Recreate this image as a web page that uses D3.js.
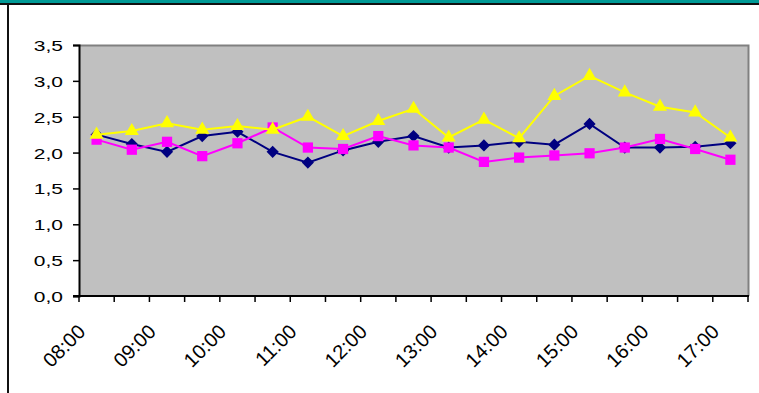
<!DOCTYPE html>
<html>
<head>
<meta charset="utf-8">
<script src="https://cdn.jsdelivr.net/npm/d3@7"></script>
<style>
  html, body { margin: 0; padding: 0; background: #fff; }
  svg { display: block; }
  text { font-family: "Liberation Sans", Arial, sans-serif; }
</style>
</head>
<body>
<script>
// Half-hourly readings, 08:00 to 17:00
const times = ["08:00","08:30","09:00","09:30","10:00","10:30","11:00","11:30","12:00","12:30",
               "13:00","13:30","14:00","14:30","15:00","15:30","16:00","16:30","17:00"];
const navySeries    = [2.25,2.12,2.01,2.23,2.29,2.01,1.86,2.03,2.15,2.23,2.07,2.10,2.15,2.11,2.40,2.07,2.07,2.08,2.13];
const magentaSeries = [2.18,2.04,2.15,1.95,2.13,2.35,2.07,2.05,2.23,2.10,2.07,1.87,1.93,1.96,1.99,2.07,2.19,2.05,1.90];
const yellowSeries  = [2.25,2.30,2.41,2.32,2.37,2.32,2.50,2.23,2.44,2.61,2.21,2.46,2.20,2.79,3.07,2.84,2.64,2.56,2.21];
const yTicks = [0, 0.5, 1, 1.5, 2, 2.5, 3, 3.5];

const W = 759, H = 393;
const plot = { left: 79, right: 748, top: 45, bottom: 296 };

const svg = d3.select("body").append("svg").attr("width", W).attr("height", H);

// frame: teal band on top, dark rule below it, dark rule on the left
svg.append("rect").attr("x", 0).attr("y", 0).attr("width", W).attr("height", 3).attr("fill", "#009a96");
svg.append("rect").attr("x", 0).attr("y", 3).attr("width", W).attr("height", 2).attr("fill", "#111");
svg.append("rect").attr("x", 7).attr("y", 3).attr("width", 2).attr("height", H - 3).attr("fill", "#111");

const x = d3.scaleBand().domain(times).range([plot.left, plot.right]).padding(0);
const y = d3.scaleLinear().domain([0, 3.5]).range([plot.bottom, plot.top]);

// plot area
svg.append("rect")
  .attr("x", plot.left).attr("y", plot.top)
  .attr("width", plot.right - plot.left).attr("height", plot.bottom - plot.top)
  .attr("fill", "#c0c0c0");
svg.append("path")
  .attr("d", `M${plot.left},${plot.top + 0.5}H${plot.right + 0.5}V${plot.bottom}`)
  .attr("fill", "none").attr("stroke", "#808080").attr("stroke-width", 2);

// y axis, labels with a decimal comma in a wide, squat face
const yAxis = d3.axisLeft(y).tickValues(yTicks).tickSize(6).tickPadding(10)
  .tickFormat(d => d3.format(".1f")(d).replace(".", ","));
const gy = svg.append("g").attr("transform", `translate(${plot.left},0)`).call(yAxis);
gy.select(".domain").attr("stroke", "#000").attr("stroke-width", 2);
gy.selectAll(".tick line").attr("stroke", "#000").attr("stroke-width", 1.5);
gy.selectAll(".tick text")
  .attr("x", 0).attr("dy", 0)
  .attr("transform", "translate(-16,5.5) scale(1,0.74)")
  .attr("font-size", 21).attr("fill", "#000")
  .attr("font-family", "'Liberation Sans', Arial, sans-serif");

// x axis: ticks on category boundaries, labels on the hour
const gx = svg.append("g").attr("transform", `translate(0,${plot.bottom})`);
gx.append("line").attr("x1", plot.left - 6).attr("x2", plot.right + 1)
  .attr("y1", 0).attr("y2", 0).attr("stroke", "#000").attr("stroke-width", 2);
const bounds = times.map(t => x(t)).concat([x(times[times.length - 1]) + x.bandwidth()]);
gx.selectAll("line.tk").data(bounds).join("line").attr("class", "tk")
  .attr("x1", d => d).attr("x2", d => d).attr("y1", 0).attr("y2", 6)
  .attr("stroke", "#000").attr("stroke-width", 1.5);
gx.selectAll("text").data(times.filter((t, i) => i % 2 === 0)).join("text")
  .attr("transform", d => `translate(${x(d) + x.bandwidth() / 2 - 10},${37}) rotate(-45)`)
  .attr("text-anchor", "end")
  .attr("font-size", 20).attr("fill", "#000")
  .text(d => d);

const cx = t => x(t) + x.bandwidth() / 2;

function drawSeries(values, color, shape, size, angle) {
  const line = d3.line().x((d, i) => cx(times[i])).y(d => y(d));
  svg.append("path").datum(values).attr("d", line)
    .attr("fill", "none").attr("stroke", color).attr("stroke-width", 2);
  svg.append("g").selectAll("path").data(values).join("path")
    .attr("transform", (d, i) => `translate(${cx(times[i])},${y(d)}) rotate(${angle})`)
    .attr("d", d3.symbol().type(shape).size(size))
    .attr("fill", color);
}

// diamonds are squares turned by 45 degrees
drawSeries(navySeries, "#000080", d3.symbolSquare, 74, 45);
drawSeries(magentaSeries, "#ff00ff", d3.symbolSquare, 105, 0);
drawSeries(yellowSeries, "#ffff00", d3.symbolTriangle, 85, 0);
</script>
</body>
</html>
